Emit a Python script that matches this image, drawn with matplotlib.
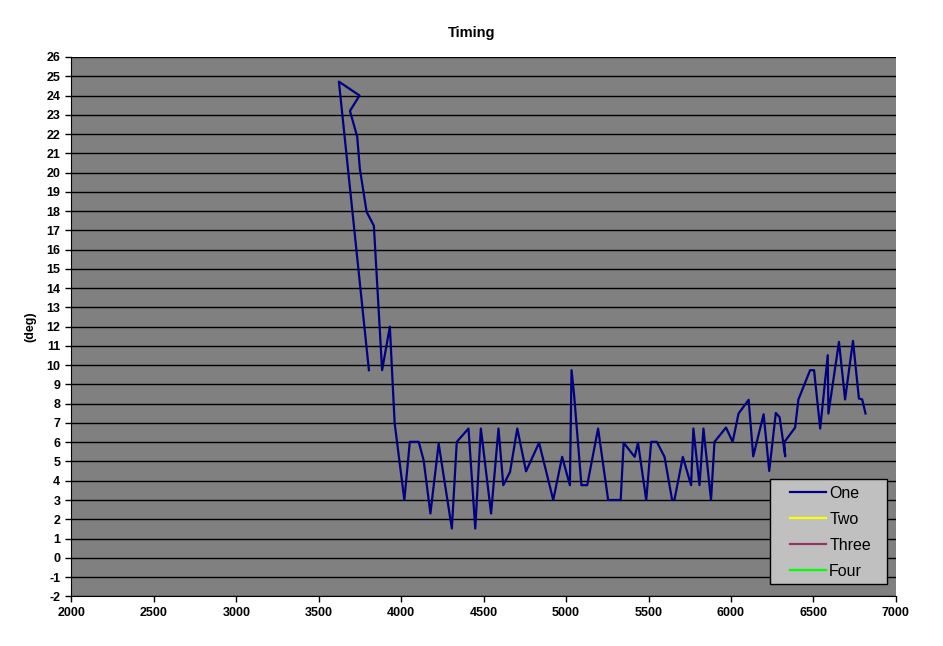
#!/usr/bin/env python3
"""Timing trace (deg) vs x, Excel-style grey plot area."""

import numpy as np
import matplotlib
matplotlib.use("Agg")
import matplotlib.pyplot as plt
from matplotlib.patches import Rectangle

# series "One", in drawing order
ONE_X = [3804, 3622, 3747, 3689, 3733, 3749, 3790, 3834, 3884, 3931, 3960, 4019,
         4052, 4106, 4136, 4177, 4227, 4307, 4337, 4408, 4449, 4483, 4545, 4590,
         4619, 4660, 4704, 4757, 4836, 4922, 4976, 5023, 5033, 5048, 5093, 5128,
         5194, 5255, 5331, 5349, 5416, 5436, 5486, 5516, 5550, 5597, 5643, 5657,
         5708, 5758, 5772, 5809, 5833, 5879, 5900, 5970, 6010, 6046, 6107, 6135,
         6198, 6232, 6272, 6295, 6329, 6323, 6389, 6409, 6480, 6504, 6541, 6587,
         6591, 6655, 6692, 6740, 6776, 6796, 6816]
ONE_Y = [9.74, 24.72, 24.0, 23.2, 21.86, 20.2, 17.96, 17.24, 9.74, 12.0, 7.0, 3.0,
         6.02, 6.02, 5.06, 2.30, 5.93, 1.52, 6.02, 6.71, 1.52, 6.71, 2.30, 6.71,
         3.77, 4.46, 6.71, 4.49, 5.97, 3.0, 5.24, 3.77, 9.74, 8.5, 3.77, 3.77,
         6.71, 3.0, 3.0, 5.97, 5.24, 5.97, 3.0, 6.02, 6.02, 5.24, 3.0, 3.0,
         5.24, 3.77, 6.71, 3.77, 6.71, 3.0, 6.02, 6.76, 6.02, 7.49, 8.2, 5.27,
         7.45, 4.51, 7.52, 7.3, 5.27, 6.0, 6.76, 8.22, 9.74, 9.74, 6.71, 10.52,
         7.49, 11.21, 8.22, 11.26, 8.27, 8.22, 7.49]

# the other series are empty (legend only)
SERIES_NAMES = ["One", "Two", "Three", "Four"]
SERIES_COLORS = ["#000080", "#FFFF00", "#993366", "#00FF00"]

X_TICKS = list(range(2000, 7001, 500))
Y_TICKS = list(range(-2, 27))

plt.rcParams.update({
    "font.family": ["Liberation Sans", "DejaVu Sans"],
    "font.size": 9,
})

fig = plt.figure(figsize=(9.43, 6.46), dpi=100)
ax = fig.add_axes([0.0758, 0.0769, 0.8742, 0.8349])
ax.set_facecolor("#808080")

data = {"One": (ONE_X, ONE_Y), "Two": ([], []), "Three": ([], []), "Four": ([], [])}
for name, color in zip(SERIES_NAMES, SERIES_COLORS):
    xs, ys = data[name]
    ax.plot(xs, ys, color=color, linewidth=1.6, label=name)

ax.set_xlim(2000, 7000)
ax.set_ylim(-2, 26)
ax.set_xticks(X_TICKS)
ax.set_yticks(Y_TICKS)
ax.set_xticklabels([str(v) for v in X_TICKS], fontweight="bold")
ax.set_yticklabels([str(v) for v in Y_TICKS], fontweight="bold")
ax.tick_params(direction="out", length=4, width=1, color="black", pad=4)
ax.yaxis.grid(True, color="black", linewidth=1)
ax.set_axisbelow(True)
for side in ["top", "right"]:
    ax.spines[side].set_visible(False)
for side in ["left", "bottom"]:
    ax.spines[side].set_color("black")

ax.set_ylabel("(deg)", fontweight="bold")
ax.yaxis.set_label_coords(-0.043, 0.5)
fig.text(0.5, 0.949, "Timing", ha="center", va="center", fontweight="bold", fontsize=10.5)

# legend box drawn by hand so its padding matches the Excel one
box = Rectangle((0.8169, 0.0955), 0.1234, 0.1625, transform=fig.transFigure,
                facecolor="#C0C0C0", edgecolor="black", linewidth=1, zorder=5, clip_on=False)
ax.add_patch(box)
leg = ax.legend(loc="upper left", bbox_to_anchor=(0.8378, 0.2484), bbox_transform=fig.transFigure,
                fontsize=11.5, frameon=False, handlelength=2.25,
                labelspacing=0.69, borderpad=0, handletextpad=0.2, borderaxespad=0)
leg.set_zorder(6)

fig.savefig("out.png", dpi=100, facecolor="white")
plt.close(fig)
